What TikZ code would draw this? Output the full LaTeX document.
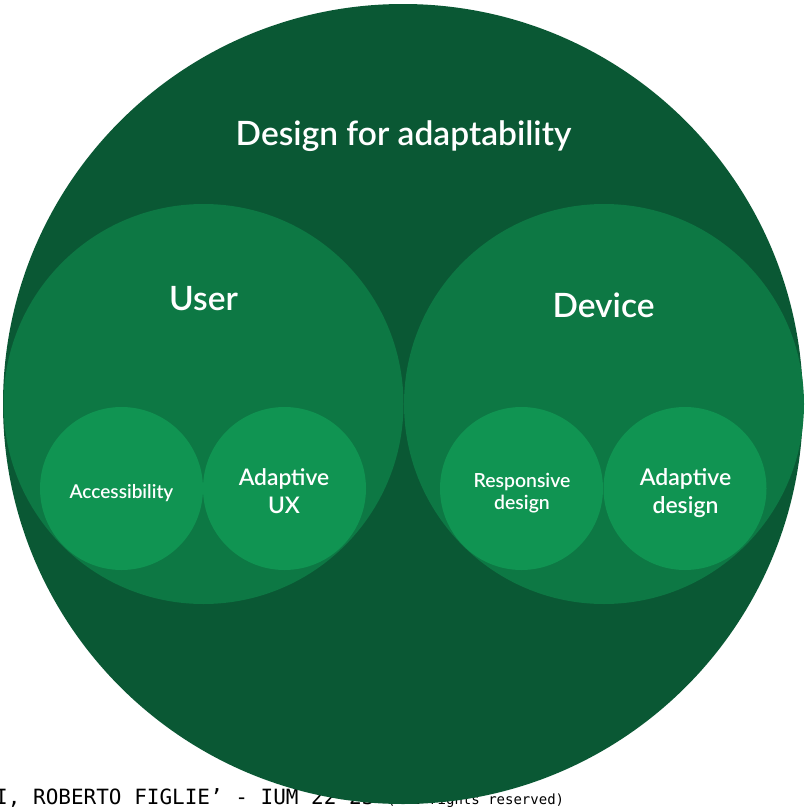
\documentclass[tikz,border=0pt]{standalone}
\usepackage{fontspec}
\setmainfont{Lato}[BoldFont={Lato Semibold}]
\newfontfamily\creditsfont{DejaVu Sans Mono}
\definecolor{outergreen}{RGB}{10,88,52}
\definecolor{setgreen}{RGB}{13,120,68}
\definecolor{itemgreen}{RGB}{16,148,82}
\tikzset{
  blob/.style={circle, draw=none, inner sep=0pt},
  settext/.style={text=white, inner sep=0pt, anchor=base, align=center}
}
\begin{document}
\begin{tikzpicture}[x=1pt, y=-1pt]
            \useasboundingbox (0,0) rectangle (807,809);

            % Footer, partly hidden by the big circle
            \node[anchor=base west, inner sep=0pt] (credits) at (-5,804)
              {\creditsfont\fontsize{21}{21}\selectfont I, ROBERTO FIGLIE’ - IUM 22-23 {\fontsize{14}{14}\selectfont (All rights reserved)}};

            % Draw sets
            \node[blob, fill=outergreen, minimum size=800] (adapt) at (403,404) {};
            \node[blob, fill=setgreen, minimum size=400] (user) at (203.5,404) {};
            \node[blob, fill=setgreen, minimum size=400] (device) at (604,404) {};

            \node[blob, fill=itemgreen, minimum size=163] (access) at (121.5,488.5) {};
            \node[blob, fill=itemgreen, minimum size=163] (adaptux) at (284.5,488.5) {};
            \node[blob, fill=itemgreen, minimum size=163] (resp) at (521.5,488.5) {};
            \node[blob, fill=itemgreen, minimum size=163] (adaptdes) at (685,488.5) {};

            % Define the names
            \node[settext, font=\bfseries\fontsize{33.5}{33.5}\selectfont] (adaptname) at (403.5,145) {Design for adaptability};
            \node[settext, font=\bfseries\fontsize{33.5}{33.5}\selectfont] (username) at (203.5,310) {User};
            \node[settext, font=\bfseries\fontsize{33.5}{33.5}\selectfont] (devicename) at (603.5,317) {Device};

            \node[settext, font=\bfseries\fontsize{19}{19}\selectfont] (accessname) at (121.5,498) {Accessibility};
            \node[settext, font=\bfseries\fontsize{22.8}{28}\selectfont] (adaptuxname) at (284,513) {Adaptive\\UX};
            \node[settext, font=\bfseries\fontsize{19.4}{22}\selectfont] (respname) at (522,509) {Responsive\\design};
            \node[settext, font=\bfseries\fontsize{23}{28}\selectfont] (adaptdesname) at (685.5,513) {Adaptive\\design};
        \end{tikzpicture}
\end{document}
